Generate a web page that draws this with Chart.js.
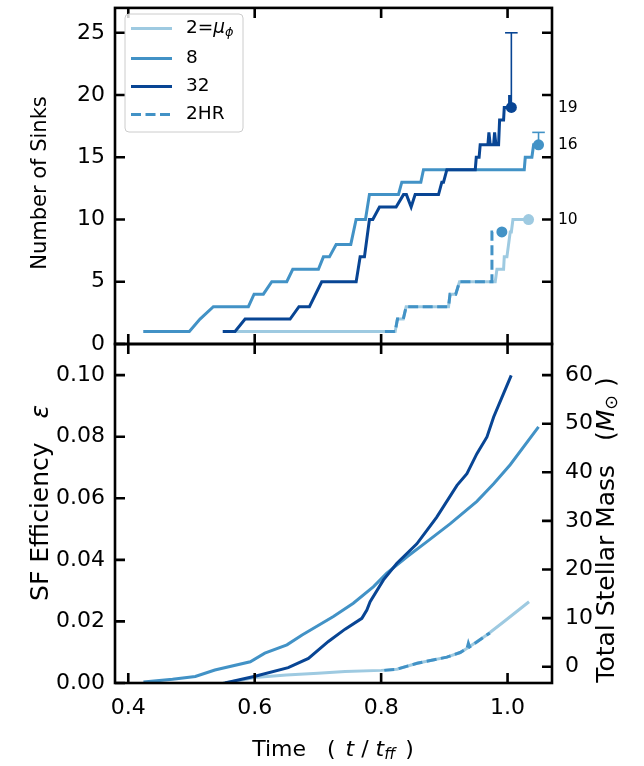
<!DOCTYPE html>
<html>
<head>
<meta charset="utf-8">
<script src="https://cdn.jsdelivr.net/npm/chart.js@4.4.0/dist/chart.umd.min.js"></script>
<style>
html,body{margin:0;padding:0;background:#fff;}
#wrap{position:relative;width:644px;height:766px;overflow:hidden;}
#wrap canvas{position:absolute;left:0;top:0;}
</style>
</head>
<body>
<div id="wrap">
<canvas id="cTop" width="644" height="766"></canvas>
<canvas id="cBot" width="644" height="766"></canvas>
</div>
<script>
// ---------- DATA ----------
// Top panel: number of sinks vs time (t / t_ff)
const SINK_T_2   = [0.5500,0.8222,0.8258,0.8350,0.8396,0.9066,0.9090,0.9180,0.9240,0.9805,0.9832,0.9937,0.9948,0.9990,1.0016,1.0042,1.0060,1.0085,1.0332];
const SINK_N_2   = [1,1,2,2,3,3,4,4,5,5,6,6,7,7,8,9,9,10,10];
const SINK_T_8   = [0.4237,0.4966,0.5135,0.5346,0.5900,0.5990,0.6137,0.6270,0.6507,0.6602,0.7008,0.7087,0.7182,0.7288,0.7520,0.7604,0.7752,0.7815,0.8274,0.8327,0.8628,0.8670,1.0264,1.0280,1.0385,1.0412,1.0490];
const SINK_N_8   = [1,1,2,3,3,4,4,5,5,6,6,7,7,8,8,10,10,12,12,13,13,14,14,15,15,16,16];
const SINK_T_32  = [0.5494,0.5689,0.5848,0.6560,0.6700,0.6866,0.7060,0.7605,0.7668,0.7736,0.7815,0.7868,0.7974,0.8237,0.8354,0.8400,0.8475,0.8538,0.8908,0.8960,0.8987,0.9040,0.9489,0.9505,0.9550,0.9567,0.9689,0.9705,0.9726,0.9779,0.9795,0.9816,0.9858,0.9874,0.9937,0.9948,1.0026,1.0032,1.0040,1.0060];
const SINK_N_32  = [1,1,2,2,3,3,5,5,7,7,10,10,11,11,12,12,11,12,12,13,13,14,14,15,15,16,16,17,16,16,17,16,16,18,18,19,19,20,19,19];
const SINK_T_2HR = [0.8060,0.8222,0.8258,0.8350,0.8396,0.9066,0.9090,0.9180,0.9240,0.9753,0.9753,0.9910];
const SINK_N_2HR = [1,1,2,2,3,3,4,4,5,5,9,9];

// final sink counts (markers) for 2, 8, 32, 2HR
const FINAL_T = [1.0332,1.0490,1.0060,0.9910];
const FINAL_N = [10,16,19,9];
// upper error bars for 8 and 32
const ERR_T  = [1.0490,1.0060];
const ERR_LO = [16,19];
const ERR_HI = [17,25];
// labels printed right of the top panel
const FINAL_LABELS = [10,16,19];

// Bottom panel: star formation efficiency vs time
const SFE_T_2   = [0.550,0.575,0.600,0.650,0.700,0.743,0.800,0.825,0.857,0.904,0.925,0.936,0.967,0.994,1.034];
const SFE_2     = [0.0000,0.0008,0.0018,0.0026,0.0032,0.0037,0.0041,0.0045,0.0064,0.0084,0.0099,0.0113,0.0156,0.0199,0.0264];
const SFE_T_8   = [0.424,0.470,0.506,0.537,0.593,0.616,0.651,0.675,0.7245,0.756,0.788,0.809,0.841,0.870,0.909,0.9515,0.978,1.0042,1.049];
const SFE_8     = [0.0003,0.0012,0.0021,0.0042,0.0069,0.0097,0.0124,0.0156,0.0216,0.0259,0.0313,0.0357,0.0410,0.0455,0.0517,0.0590,0.0647,0.0709,0.0832];
const SFE_T_32  = [0.553,0.6006,0.653,0.685,0.7166,0.743,0.7695,0.7774,0.7826,0.8037,0.825,0.8565,0.888,0.920,0.9357,0.9515,0.9674,0.978,0.9936,1.0058];
const SFE_32    = [0.0000,0.0022,0.0050,0.0080,0.0135,0.0175,0.0210,0.0237,0.0264,0.0335,0.0389,0.0452,0.0539,0.0642,0.0680,0.0745,0.0799,0.0864,0.0940,0.0999];
const SFE_T_2HR = [0.805,0.825,0.857,0.904,0.925,0.936,0.938,0.940,0.967,0.972];
const SFE_2HR   = [0.0041,0.0045,0.0064,0.0084,0.0099,0.0113,0.0129,0.0117,0.0156,0.0162];

// axes
const X_TICKS    = [0.4,0.6,0.8,1.0];
const SINK_TICKS = [0,5,10,15,20,25];
const EPS_TICKS  = [0,0.02,0.04,0.06,0.08,0.10];
const MASS_TICKS = [0,10,20,30,40,50,60];
const X_RANGE    = [0.379,1.0703];
const SINK_RANGE = [0,27];
const EPS_RANGE  = [0,0.1101];
const MASS_RANGE = [-3.35,66.4];

// ---------- STYLE ----------
const C_LIGHT = '#9ecae1', C_MED = '#4292c6', C_DARK = '#084594';
const FONT = 'DejaVu Sans';
const TICK_SIZE = 22, LEGEND_SIZE = 18.5, ANNOT_SIZE = 15.5;
const LW = 3, DASH = [10,4.5];

Chart.defaults.font.family = FONT;
Chart.defaults.color = '#000';

const pts = (xs, ys) => xs.map((x, i) => ({x: x, y: ys[i]}));

function lineDs(label, xs, ys, color, dashed) {
  return {label, data: pts(xs, ys), borderColor: color, backgroundColor: color,
    borderWidth: LW, borderDash: dashed ? DASH : [], pointRadius: 0, tension: 0, fill: false,
    borderCapStyle: 'butt', borderJoinStyle: 'miter'};
}
function dotDs(i, color) {
  return {label: 'final', data: [{x: FINAL_T[i], y: FINAL_N[i]}], showLine: false,
    pointRadius: 5.5, pointBackgroundColor: color, pointBorderColor: color, pointBorderWidth: 0};
}
function errDs(i, color) {
  return {label: 'err', data: [{x: ERR_T[i], y: ERR_LO[i]}, {x: ERR_T[i], y: ERR_HI[i]}],
    borderColor: color, borderWidth: 1.6, pointStyle: 'line', pointRadius: [0, 6.3],
    pointBorderColor: color, pointBorderWidth: 1.6, tension: 0, fill: false};
}

function fixW(w) { return s => { s.width = w; s.paddingTop = 0; s.paddingBottom = 0; s.paddingLeft = 0; s.paddingRight = 0; }; }
function fixH(h) { return s => { s.height = h; s.paddingTop = 0; s.paddingBottom = 0; s.paddingLeft = 0; s.paddingRight = 0; }; }
const setTicks = arr => s => { s.ticks = arr.map(v => ({value: v})); };

// frame + inward ticks
function framePlugin(leftId, leftTicks, rightId, rightTicks) {
  return {
    id: 'frame',
    afterDraw(chart) {
      const {ctx, chartArea: a} = chart;
      const xs = chart.scales.x, yl = chart.scales[leftId], yr = chart.scales[rightId];
      const TL = 10;
      ctx.save();
      ctx.strokeStyle = '#000';
      ctx.lineWidth = 2.6;
      ctx.lineCap = 'butt';
      ctx.beginPath();
      X_TICKS.forEach(v => {
        const p = xs.getPixelForValue(v);
        ctx.moveTo(p, a.bottom); ctx.lineTo(p, a.bottom - TL);
        ctx.moveTo(p, a.top); ctx.lineTo(p, a.top + TL);
      });
      leftTicks.forEach(v => {
        const p = yl.getPixelForValue(v);
        ctx.moveTo(a.left, p); ctx.lineTo(a.left + TL, p);
      });
      rightTicks.forEach(v => {
        const p = yr.getPixelForValue(v);
        ctx.moveTo(a.right, p); ctx.lineTo(a.right - TL, p);
      });
      ctx.stroke();
      ctx.strokeRect(a.left, a.top, a.right - a.left, a.bottom - a.top);
      ctx.restore();
    }
  };
}

// rich text helper
function fontStr(s) { return (s.it ? 'italic ' : '') + s.size + 'px "' + FONT + '"'; }
function drawRich(ctx, segs, x, y, rot) {
  ctx.save();
  ctx.translate(x, y);
  if (rot) ctx.rotate(-Math.PI / 2);
  let total = 0;
  segs.forEach(s => { ctx.font = fontStr(s); s.w = ctx.measureText(s.t).width + (s.gap || 0); total += s.w; });
  let cx = -total / 2;
  ctx.fillStyle = '#000';
  ctx.textBaseline = 'middle';
  ctx.textAlign = 'left';
  segs.forEach(s => { ctx.font = fontStr(s); ctx.fillText(s.t, cx, s.dy || 0); cx += s.w; });
  ctx.restore();
}

const topExtras = {
  id: 'topExtras',
  afterDraw(chart) {
    const ctx = chart.ctx, a = chart.chartArea;
    // y title
    drawRich(ctx, [{t: 'Number of Sinks', size: 21}], 41, 183, true);
    // legend
    const L = {x: 125, y: 14, w: 118, h: 118};
    ctx.save();
    ctx.fillStyle = 'rgba(255,255,255,0.8)';
    ctx.strokeStyle = '#cccccc';
    ctx.lineWidth = 1;
    const r = 4;
    ctx.beginPath();
    ctx.moveTo(L.x + r, L.y); ctx.lineTo(L.x + L.w - r, L.y); ctx.quadraticCurveTo(L.x + L.w, L.y, L.x + L.w, L.y + r);
    ctx.lineTo(L.x + L.w, L.y + L.h - r); ctx.quadraticCurveTo(L.x + L.w, L.y + L.h, L.x + L.w - r, L.y + L.h);
    ctx.lineTo(L.x + r, L.y + L.h); ctx.quadraticCurveTo(L.x, L.y + L.h, L.x, L.y + L.h - r);
    ctx.lineTo(L.x, L.y + r); ctx.quadraticCurveTo(L.x, L.y, L.x + r, L.y);
    ctx.closePath(); ctx.fill(); ctx.stroke();
    const rows = [
      {c: C_LIGHT, d: false, segs: [{t: '2=', size: LEGEND_SIZE}, {t: 'μ', size: LEGEND_SIZE, it: true}, {t: 'ϕ', size: LEGEND_SIZE * 0.7, it: true, dy: 4}]},
      {c: C_MED, d: false, segs: [{t: '8', size: LEGEND_SIZE}]},
      {c: C_DARK, d: false, segs: [{t: '32', size: LEGEND_SIZE}]},
      {c: C_MED, d: true, segs: [{t: '2HR', size: LEGEND_SIZE}]}
    ];
    const ys = [28.5, 58.5, 86.5, 114.5];
    rows.forEach((row, i) => {
      ctx.beginPath();
      ctx.strokeStyle = row.c; ctx.lineWidth = LW; ctx.setLineDash(row.d ? DASH : []);
      ctx.moveTo(131, ys[i]); ctx.lineTo(172, ys[i]); ctx.stroke();
      ctx.setLineDash([]);
      let cx = 186;
      row.segs.forEach(s => {
        ctx.font = fontStr(s); ctx.fillStyle = '#000'; ctx.textBaseline = 'middle'; ctx.textAlign = 'left';
        ctx.fillText(s.t, cx, ys[i] + (s.dy || 0)); cx += ctx.measureText(s.t).width;
      });
    });
    ctx.restore();
  }
};

const botExtras = {
  id: 'botExtras',
  afterDraw(chart) {
    const ctx = chart.ctx, a = chart.chartArea;
    const T = 25, X = 22;
    drawRich(ctx, [{t: 'SF Efficiency   ', size: T}, {t: 'ε', size: T, it: true}], 41, 503, true);
    drawRich(ctx, [{t: 'Total Stellar Mass   (', size: T}, {t: 'M', size: T, it: true}, {t: '⊙', size: T * 0.7, dy: 5}, {t: ' )', size: T}], 607, 530, true);
    drawRich(ctx, [{t: 'Time   ( ', size: X, gap: 3}, {t: 't', size: X, it: true}, {t: ' / ', size: X}, {t: 't', size: X, it: true}, {t: 'ff', size: X * 0.7, it: true, dy: 5, gap: 3}, {t: ' )', size: X}], 333, 750, false);
  }
};

const common = {
  responsive: false, animation: false, events: [],
  devicePixelRatio: 1,
  plugins: {legend: {display: false}, tooltip: {enabled: false}},
};

// ---------- TOP CHART ----------
new Chart(document.getElementById('cTop'), {
  type: 'line',
  data: {datasets: [
    errDs(1, C_DARK), errDs(0, C_MED),
    dotDs(2, C_DARK), dotDs(1, C_MED), dotDs(3, C_MED), dotDs(0, C_LIGHT),
    lineDs('2HR', SINK_T_2HR, SINK_N_2HR, C_MED, true),
    lineDs('32', SINK_T_32, SINK_N_32, C_DARK, false),
    lineDs('8', SINK_T_8, SINK_N_8, C_MED, false),
    lineDs('2=μϕ', SINK_T_2, SINK_N_2, C_LIGHT, false)
  ]},
  options: Object.assign({}, common, {
    layout: {padding: {top: 4, bottom: 422, left: 0, right: 0}},
    scales: {
      x: {type: 'linear', min: X_RANGE[0], max: X_RANGE[1], afterBuildTicks: setTicks(X_TICKS),
          ticks: {display: false}, grid: {display: false, drawTicks: false}, border: {display: false}, afterFit: fixH(0)},
      y: {type: 'linear', position: 'left', min: SINK_RANGE[0], max: SINK_RANGE[1], afterBuildTicks: setTicks(SINK_TICKS),
          ticks: {font: {size: TICK_SIZE}, color: '#000', padding: 10},
          grid: {display: false, drawTicks: false}, border: {display: false}, afterFit: fixW(115)},
      yr: {type: 'linear', position: 'right', min: SINK_RANGE[0], max: SINK_RANGE[1], afterBuildTicks: setTicks(FINAL_LABELS),
          ticks: {font: {size: ANNOT_SIZE}, color: '#000', padding: 6},
          grid: {display: false, drawTicks: false}, border: {display: false}, afterFit: fixW(92)}
    }
  }),
  plugins: [framePlugin('y', SINK_TICKS, 'yr', SINK_TICKS.filter(v => v > 0)), topExtras]
});

// ---------- BOTTOM CHART ----------
new Chart(document.getElementById('cBot'), {
  type: 'line',
  data: {datasets: [
    lineDs('2HR', SFE_T_2HR, SFE_2HR, C_MED, true),
    lineDs('32', SFE_T_32, SFE_32, C_DARK, false),
    lineDs('8', SFE_T_8, SFE_8, C_MED, false),
    lineDs('2=μϕ', SFE_T_2, SFE_2, C_LIGHT, false)
  ]},
  options: Object.assign({}, common, {
    layout: {padding: {top: 344, bottom: 0, left: 0, right: 0}},
    scales: {
      x: {type: 'linear', min: X_RANGE[0], max: X_RANGE[1], afterBuildTicks: setTicks(X_TICKS),
          ticks: {font: {size: TICK_SIZE}, color: '#000', padding: 12, callback: v => v.toFixed(1)},
          grid: {display: false, drawTicks: false}, border: {display: false}, afterFit: fixH(83)},
      y: {type: 'linear', position: 'left', min: EPS_RANGE[0], max: EPS_RANGE[1], afterBuildTicks: setTicks(EPS_TICKS),
          ticks: {font: {size: TICK_SIZE}, color: '#000', padding: 10, callback: v => v.toFixed(2)},
          grid: {display: false, drawTicks: false}, border: {display: false}, afterFit: fixW(115)},
      ym: {type: 'linear', position: 'right', min: MASS_RANGE[0], max: MASS_RANGE[1], afterBuildTicks: setTicks(MASS_TICKS),
          ticks: {font: {size: TICK_SIZE}, color: '#000', padding: 13, callback: v => String(v)},
          grid: {display: false, drawTicks: false}, border: {display: false}, afterFit: fixW(92)}
    }
  }),
  plugins: [framePlugin('y', EPS_TICKS, 'ym', MASS_TICKS), botExtras]
});
</script>
</body>
</html>
